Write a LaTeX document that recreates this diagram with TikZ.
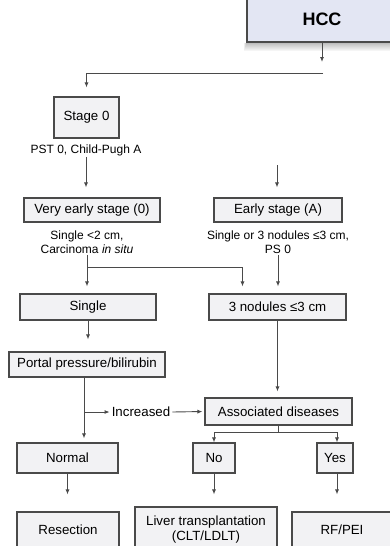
\documentclass[tikz,border=0pt]{standalone}
\usepackage{fontspec}
\setmainfont{Liberation Sans}
\usetikzlibrary{arrows.meta}
\definecolor{boxfill}{HTML}{F2F2F4}
\definecolor{hccfill}{HTML}{E3E6F3}
\definecolor{edge}{HTML}{4A4A4A}

\begin{document}
\begin{tikzpicture}[x=1pt, y=-1pt,
  every node/.style={font=\fontsize{13.3}{15}\selectfont, text=black},
  box/.style={draw=edge, line width=1.1pt, fill=boxfill, inner sep=0pt, align=center},
  note/.style={align=center, inner sep=1pt, font=\fontsize{12}{14.5}\selectfont},
  arr/.style={draw=edge, line width=0.9pt, -{Latex[length=5pt,width=4pt]}}]
  \useasboundingbox (0,0) rectangle (390,546);

  % Top of the tree
  \node[box, fill=hccfill, minimum width=150pt, minimum height=46pt,
    font=\fontsize{18}{20}\selectfont\bfseries] (hcc) at (322,19) {HCC};
  \node[box, minimum width=65pt, minimum height=41pt] (stage0) at (86.5,117.5) {Stage 0};
  \coordinate (split) at (323,73);
  \draw[arr, shorten >=9pt] (split) -| (stage0.north);

  % Stages
  \node[note] (pst) at (86,150) {PST 0, Child-Pugh A};
  \node[box, minimum width=136pt, minimum height=24pt] (vearly) at (92,210) {Very early stage (0)};
  \node[box, minimum width=128pt, minimum height=24pt] (early) at (278,210) {Early stage (A)};
  \node[note] (vnote) at (87,242) {Single <2 cm,\\Carcinoma \textit{in situ}};
  \node[note] (enote) at (278,242) {Single or 3 nodules ≤3 cm,\\PS 0};
  \coordinate (earlyin) at (277,165);
  \draw[arr, shorten >=10pt] (pst.south) -- (pst.south |- vearly.north);
  \draw[arr, shorten >=10pt] (earlyin) -- (earlyin |- early.north);

  % Tumour size
  \node[box, minimum width=136pt, minimum height=26pt] (single) at (88,307) {Single};
  \node[box, minimum width=137pt, minimum height=26pt] (nod3) at (277.5,307) {3 nodules ≤3 cm};
  \coordinate (fork) at (87,267);
  \draw[arr, shorten >=7pt] (vnote.south) -- (vnote.south |- single.north);
  \draw[arr, shorten >=7pt] (fork) -| ([xshift=-35pt]nod3.north);
  \draw[arr, shorten >=7pt] (enote.south) -- (enote.south |- nod3.north);

  % Portal pressure and associated diseases
  \node[box, minimum width=156pt, minimum height=25pt] (portal) at (87,364.5) {Portal pressure/bilirubin};
  \node[box, minimum width=147pt, minimum height=27pt] (assoc) at (278.5,411.5) {Associated diseases};
  \node[inner sep=2pt] (incr) at (141,412) {Increased};
  \draw[arr, shorten >=12pt] (single.south) -- (single.south |- portal.north);
  \draw[arr, shorten >=6pt] (nod3.south) -- (nod3.south |- assoc.north);
  \coordinate (pdrop) at ([xshift=-3pt]portal.south);
  \draw[arr] (pdrop |- incr) -- (incr.west);
  \draw[arr, shorten >=2pt] (incr.east) -- (assoc.west);

  % Decisions
  \node[box, minimum width=101pt, minimum height=30pt] (normal) at (67.5,458) {Normal};
  \node[box, minimum width=42pt, minimum height=30pt] (no) at (214,458) {No};
  \node[box, minimum width=36pt, minimum height=30pt] (yes) at (335,458) {Yes};
  \draw[arr, shorten >=4pt] (pdrop) -- (pdrop |- normal.north);
  \draw[arr] (assoc.south) -- ++(0,7) -| (no.north);
  \draw[arr] (assoc.south) -- ++(0,7) -| ([xshift=2pt]yes.north);

  % Treatments
  \node[box, minimum width=102pt, minimum height=36pt] (resect) at (68,530) {Resection};
  \node[box, minimum width=142pt, minimum height=45pt] (liver) at (206,529.5) {Liver transplantation\\(CLT/LDLT)};
  \node[box, minimum width=100pt, minimum height=36pt] (rfpei) at (342,530) {RF/PEI};
  \draw[arr, shorten >=17pt] (normal.south) -- (normal.south |- resect.north);
  \draw[arr, shorten >=12pt] (no.south) -- (no.south |- liver.north);
  \draw[arr, shorten >=17pt] ([xshift=2pt]yes.south) -- ([xshift=2pt]yes.south |- rfpei.north);

  % Shadow under the HCC box, then its arrow on top
  \foreach \s/\c in {8/4,7/7,6/10,5/13,4/16,3/19,2/22,1/26}
    \fill[black!\c] ([xshift=-0.3*\s pt]hcc.south west) rectangle ([yshift=-\s pt]hcc.south east -| 400,0);
  \draw[edge, line width=1.1pt] (hcc.south west) -- (hcc.south east);
  \coordinate (hccout) at (322,62);
  \draw[arr] (hcc.south) -- (hccout);
\end{tikzpicture}
\end{document}
